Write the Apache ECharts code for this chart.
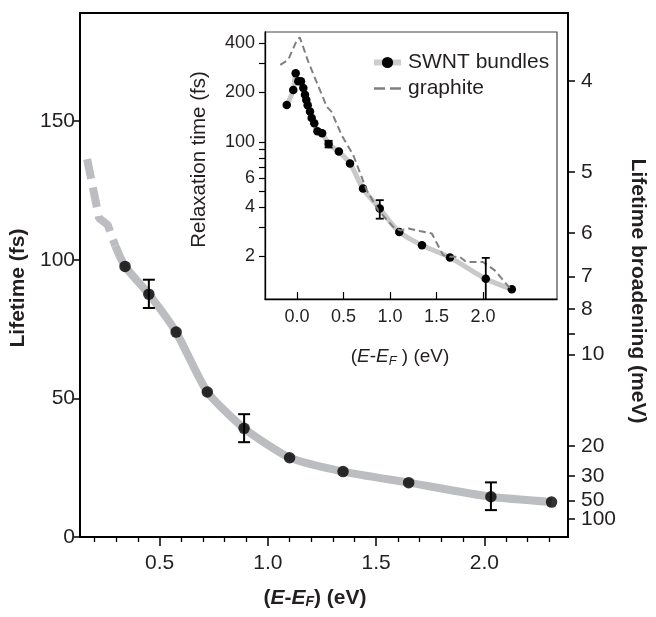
<!DOCTYPE html>
<html><head><meta charset="utf-8">
<script src="https://cdn.jsdelivr.net/npm/echarts@6/dist/echarts.min.js"></script>
<style>html,body{margin:0;padding:0;background:#fff}#c{width:656px;height:617px}</style>
</head><body><div id="c"></div>
<script>
// ---------- data ----------
const HBAR = 658.2; // meV*fs, converts lifetime to lifetime broadening

// main panel: lifetime vs E-EF
const mainX        = [0.34, 0.45, 0.576, 0.72, 0.89, 1.10, 1.347, 1.65, 2.03, 2.31];
const mainLifetime = [97.6, 87.6, 73.9, 52.3, 39.2, 28.6, 23.6, 19.6, 14.5, 12.6];
const mainFitX     = [0.295, 0.34, 0.45, 0.576, 0.72, 0.89, 1.10, 1.347, 1.65, 2.03, 2.31];
const mainFitY     = [105, 97.6, 87.6, 73.9, 52.3, 39.2, 28.6, 23.6, 19.6, 14.5, 12.6];
const mainDashX    = [0.165, 0.22, 0.26, 0.295];
const mainDashY    = [136.3, 115, 112.6, 105];
const mainErrX     = [0.45, 0.89, 2.03];
const mainErrLow   = [82.6, 34.2, 9.7];
const mainErrHigh  = [92.8, 44.3, 19.7];

// axes ticks / labels
const mainXLabels      = [0.5, 1.0, 1.5, 2.0];
const mainXMinor       = [0.2,0.3,0.4,0.6,0.7,0.8,0.9,1.1,1.2,1.3,1.4,1.6,1.7,1.8,1.9,2.1,2.2,2.3];
const mainYLabels      = [0, 50, 100, 150];
const broadeningTicks  = [4, 5, 6, 7, 8, 9, 10, 20, 30, 50, 100];
const broadeningLabels = [4, 5, 6, 7, 8, 10, 20, 30, 50, 100];

// inset: relaxation time (log) vs E-EF
const swntX = [-0.11,-0.04,-0.014,0.014,0.043,0.068,0.086,0.10,0.115,0.14,0.158,0.186,0.22,0.27,0.34,0.45,0.57,0.71,0.89,1.10,1.344,1.645,2.03,2.31];
const swntY = [168,207,262,234,234,213,194,180,167,153,140,130,116,113,96.9,87.2,73.8,51.9,39.2,28.2,23.4,19.7,14.6,12.6];
const graphiteX = [-0.18,-0.094,0.0,0.03,0.12,0.23,0.32,0.37,0.48,0.605,0.75,0.874,1.035,1.11,1.20,1.32,1.45,1.57,1.645,1.75,1.82,2.0,2.13,2.29];
const graphiteY = [295,317,419,434,310,218,164,153,110,83,50.7,38.3,30.3,28.8,29.6,28.6,27.6,20.4,19.9,19.9,18.5,18.5,16.4,12.8];
const insetErrX    = [0.34, 0.89, 2.03];
const insetErrLow  = [92.5, 34.0, 9.7];
const insetErrHigh = [101.5, 44.1, 19.6];
const insetXLabels = [0.0, 0.5, 1.0, 1.5, 2.0];
const insetYTicks  = [20,30,40,50,60,70,80,90,100,200,300,400];
const insetYLabels = [20,40,60,100,200,400];

// ---------- chart ----------
const FONT = '"Liberation Sans", Arial, Helvetica, sans-serif';
const TXT = '#231f20';
const zip = (a, b) => a.map((v, i) => [v, b[i]]);
const zip3 = (a, b, c) => a.map((v, i) => [v, b[i], c[i]]);
const toLifetime = g => HBAR / g;
const toBroadening = v => String(Math.round(HBAR / v));

function errRender(cap, lw) {
  return function (params, api) {
    const x = api.value(0), lo = api.value(1), hi = api.value(2);
    const pH = api.coord([x, hi]), pL = api.coord([x, lo]);
    const st = {stroke: '#000', lineWidth: lw};
    return {type: 'group', children: [
      {type: 'line', shape: {x1: pH[0], y1: pH[1], x2: pL[0], y2: pL[1]}, style: st},
      {type: 'line', shape: {x1: pH[0] - cap, y1: pH[1], x2: pH[0] + cap, y2: pH[1]}, style: st},
      {type: 'line', shape: {x1: pL[0] - cap, y1: pL[1], x2: pL[0] + cap, y2: pL[1]}, style: st}
    ]};
  };
}

// the right-axis labels are split over two overlaid axes so the closely spaced 50 / 100 both stay visible
const rightLabelsA = broadeningLabels.filter((g, i) => i % 2 === 0);
const rightLabelsB = broadeningLabels.filter((g, i) => i % 2 === 1);

function rightAxis(labels, withLine, withName) {
  const ax = {gridIndex: 0, type: 'value', min: 0, max: 189, position: 'right',
    axisLine: {show: withLine, onZero: false, lineStyle: {color: '#000', width: 2}},
    axisTick: {show: withLine, customValues: broadeningTicks.map(toLifetime), length: 7, lineStyle: {color: '#000', width: 1.5}},
    axisLabel: {customValues: labels.map(toLifetime), formatter: toBroadening,
                fontSize: 21, color: TXT, margin: 13, fontFamily: FONT},
    splitLine: {show: false}};
  if (withName) {
    ax.name = 'Lifetime broadening (meV)'; ax.nameLocation = 'middle'; ax.nameGap = 59; ax.nameRotate = -90;
    ax.nameTextStyle = {fontSize: 21, fontWeight: 'bold', color: TXT, fontFamily: FONT, padding: [0, 0, 0, 32]};
  }
  return ax;
}

const chart = echarts.init(document.getElementById('c'));
const option = {
  animation: false,
  textStyle: {fontFamily: FONT},
  grid: [
    {left: 80, top: 13, width: 496, height: 524, show: true, borderColor: '#000', borderWidth: 2},
    {left: 265, top: 32, width: 292, height: 267, show: true, borderColor: '#444', borderWidth: 1.2}
  ],
  legend: {
    data: [
      {name: 'SWNT bundles', lineStyle: {width: 6, color: '#CDCDCE'}},
      {name: 'graphite', lineStyle: {width: 2.5, color: '#808080', type: [11, 5]}}
    ],
    orient: 'vertical', left: 366, top: 47,
    itemWidth: 27, itemHeight: 14, itemGap: 5,
    textStyle: {fontSize: 21, color: TXT, fontFamily: FONT, padding: [0, 0, 0, 2]}
  },
  xAxis: [
    {gridIndex: 0, type: 'value', min: 0.132, max: 2.386, position: 'bottom',
     axisLine: {show: true, onZero: false, lineStyle: {color: '#000', width: 2}},
     axisTick: {show: true, customValues: mainXLabels, length: 9, lineStyle: {color: '#000', width: 1.5}},
     axisLabel: {customValues: mainXLabels, formatter: v => v.toFixed(1), fontSize: 21, color: TXT, margin: 16, fontFamily: FONT},
     splitLine: {show: false},
     name: '({bi|E}-{bi|E}{sub|F}) (eV)', nameLocation: 'middle', nameGap: 50,
     nameTextStyle: {fontSize: 21, fontWeight: 'bold', color: TXT, lineHeight: 22, fontFamily: FONT, padding: [0, 18, 0, 0],
       rich: {bi: {fontStyle: 'italic', fontWeight: 'bold', fontSize: 21, lineHeight: 22, color: TXT, fontFamily: FONT},
              sub: {fontStyle: 'italic', fontWeight: 'bold', fontSize: 14, lineHeight: 12, verticalAlign: 'bottom', color: TXT, fontFamily: FONT}}}},
    {gridIndex: 0, type: 'value', min: 0.132, max: 2.386, position: 'bottom',
     axisLine: {show: false, onZero: false},
     axisTick: {show: true, customValues: mainXMinor, length: 5, lineStyle: {color: '#000', width: 1.3}},
     axisLabel: {show: false}, splitLine: {show: false}},
    {gridIndex: 1, type: 'value', min: -0.344, max: 2.796, position: 'bottom',
     axisLine: {show: true, onZero: false, lineStyle: {color: '#000', width: 1.3}},
     axisTick: {show: true, inside: true, customValues: insetXLabels, length: 7, lineStyle: {color: '#000', width: 1.2}},
     axisLabel: {customValues: insetXLabels, formatter: v => v.toFixed(1), fontSize: 18, color: TXT, margin: 9, fontFamily: FONT},
     splitLine: {show: false},
     name: '({i|E}-{i|E}{sub|F} ) (eV)', nameLocation: 'middle', nameGap: 47,
     nameTextStyle: {fontSize: 19, color: TXT, lineHeight: 22, fontFamily: FONT, padding: [0, 22, 0, 0],
       rich: {i: {fontStyle: 'italic', fontSize: 19, lineHeight: 22, color: TXT, fontFamily: FONT},
              sub: {fontStyle: 'italic', fontSize: 13, lineHeight: 12, verticalAlign: 'bottom', color: TXT, fontFamily: FONT}}}}
  ],
  yAxis: [
    {gridIndex: 0, type: 'value', min: 0, max: 189, position: 'left',
     axisLine: {show: true, onZero: false, lineStyle: {color: '#000', width: 2}},
     axisTick: {show: true, customValues: mainYLabels, length: 7, lineStyle: {color: '#000', width: 1.5}},
     axisLabel: {customValues: mainYLabels, fontSize: 21, color: TXT, margin: 5, fontFamily: FONT, showMinLabel: true},
     splitLine: {show: false},
     name: 'Lifetime (fs)', nameLocation: 'middle', nameGap: 47, nameRotate: 90,
     nameTextStyle: {fontSize: 21, fontWeight: 'bold', color: TXT, fontFamily: FONT, padding: [0, 26, 0, 0]}},
    rightAxis(rightLabelsA, true, true),
    {gridIndex: 1, type: 'log', logBase: 10, min: 11, max: 468, position: 'left',
     axisLine: {show: true, onZero: false, lineStyle: {color: '#000', width: 1.3}},
     axisTick: {show: true, customValues: insetYTicks, length: 6, lineStyle: {color: '#000', width: 1.2}},
     axisLabel: {customValues: insetYLabels, formatter: v => (v < 100 ? String(Math.round(v / 10)) : String(Math.round(v))),
                 fontSize: 18, color: TXT, margin: 10, fontFamily: FONT},
     splitLine: {show: false}, minorTick: {show: false},
     name: 'Relaxation time (fs)', nameLocation: 'middle', nameGap: 55, nameRotate: 90,
     nameTextStyle: {fontSize: 20.5, color: TXT, fontFamily: FONT, padding: [0, 0, 0, 12]}},
    rightAxis(rightLabelsB, false, false)
  ],
  series: [
    {type: 'line', xAxisIndex: 0, yAxisIndex: 0, data: zip(mainDashX, mainDashY), symbol: 'none', silent: true, z: 2,
     lineStyle: {color: '#BCBDC0', width: 8, type: [20, 9], cap: 'butt'}},
    {type: 'line', xAxisIndex: 0, yAxisIndex: 0, data: zip(mainFitX, mainFitY), symbol: 'none', silent: true, z: 2, smooth: 0.2,
     lineStyle: {color: '#BCBDC0', width: 8, cap: 'butt'}},
    {type: 'custom', xAxisIndex: 0, yAxisIndex: 0, data: zip3(mainErrX, mainErrLow, mainErrHigh),
     encode: {x: 0, y: [1, 2]}, renderItem: errRender(6, 2), z: 3, silent: true},
    {type: 'scatter', xAxisIndex: 0, yAxisIndex: 0, data: zip(mainX, mainLifetime), symbol: 'circle', symbolSize: 11.5,
     itemStyle: {color: '#000'}, z: 4, silent: true},

    {name: 'SWNT bundles', type: 'line', xAxisIndex: 2, yAxisIndex: 2, data: zip(swntX, swntY), smooth: 0.3,
     symbol: 'circle', symbolSize: 8.5, showSymbol: true, itemStyle: {color: '#000'},
     lineStyle: {color: '#C9C9CA', width: 5}, z: 3, silent: true},
    {name: 'graphite', type: 'line', xAxisIndex: 2, yAxisIndex: 2, data: zip(graphiteX, graphiteY), symbol: 'none',
     itemStyle: {color: 'rgba(0,0,0,0)'},
     lineStyle: {color: '#808080', width: 2, type: [7, 4]}, z: 4, silent: true},
    {type: 'custom', xAxisIndex: 2, yAxisIndex: 2, data: zip3(insetErrX, insetErrLow, insetErrHigh), clip: true,
     encode: {x: 0, y: [1, 2]}, renderItem: errRender(4, 1.8), z: 5, silent: true}
  ]
};
chart.setOption(option);
</script></body></html>
